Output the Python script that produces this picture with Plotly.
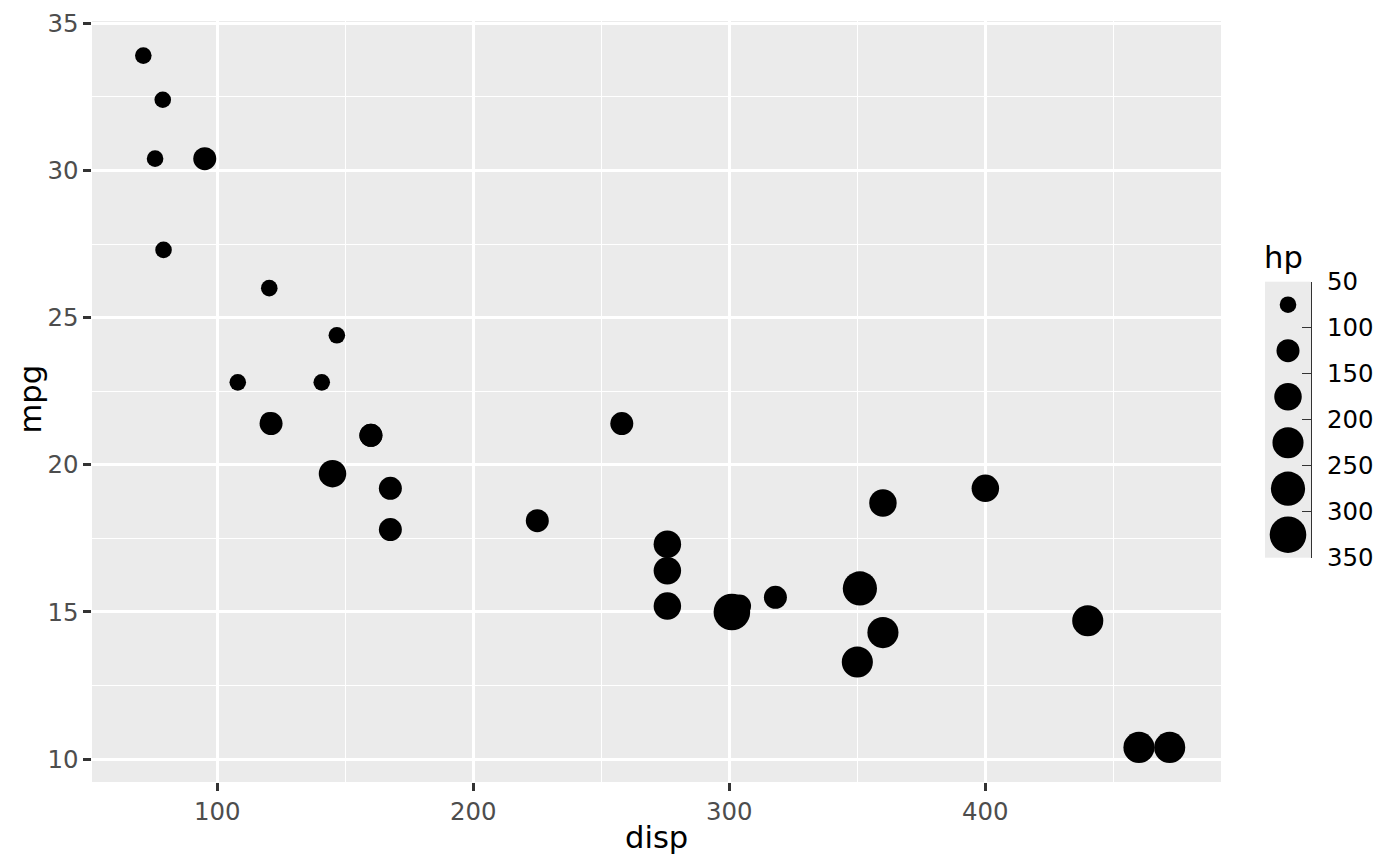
import plotly.graph_objects as go

# mtcars data
disp = [160, 160, 108, 258, 360, 225, 360, 146.7, 140.8, 167.6, 167.6, 275.8, 275.8, 275.8,
        472, 460, 440, 78.7, 75.7, 71.1, 120.1, 318, 304, 350, 400, 79, 120.3, 95.1, 351, 145, 301, 121]
mpg = [21, 21, 22.8, 21.4, 18.7, 18.1, 14.3, 24.4, 22.8, 19.2, 17.8, 16.4, 17.3, 15.2,
       10.4, 10.4, 14.7, 32.4, 30.4, 33.9, 21.5, 15.5, 15.2, 13.3, 19.2, 27.3, 26, 30.4, 15.8, 19.7, 15, 21.4]
hp = [110, 110, 93, 110, 175, 105, 245, 62, 95, 123, 123, 180, 180, 180,
      205, 215, 230, 66, 52, 65, 97, 150, 150, 245, 175, 66, 91, 113, 264, 175, 335, 109]

# binned size scale
size_breaks = [50, 100, 150, 200, 250, 300, 350]
legend_labels = ["50", "100", "150", "200", "250", "300", "350"]
bin_diam = [16.6, 23.0, 27.5, 31.1, 34.2, 36.6]

x_ticks = [100, 200, 300, 400]
y_ticks = [10, 15, 20, 25, 30, 35]


def bin_index(v):
    for i in range(len(size_breaks) - 1):
        if v <= size_breaks[i + 1]:
            return i
    return len(size_breaks) - 2


point_sizes = [bin_diam[bin_index(v)] for v in hp]

# page body has an 8px margin; figure is sized to fit the window
OFF = 8
W, H = 1400 - 2 * OFF, 866 - 2 * OFF
PANEL_L, PANEL_R, PANEL_T, PANEL_B = 92, 1221, 21, 782  # screen px
ML = PANEL_L - OFF
MT = PANEL_T - OFF
MB = H - (PANEL_B - OFF)
MR = 0
PW = W - ML - MR
PH = H - MT - MB


def px_x(s):
    return (s - PANEL_L) / PW


def px_y(s):
    return (PANEL_B - s) / PH


FONT = "DejaVu Sans"
GRID = "#FFFFFF"
BG = "#EBEBEB"

fig = go.Figure()
fig.add_trace(go.Scatter(
    x=disp, y=mpg, mode="markers",
    marker=dict(size=point_sizes, color="black", opacity=1, line=dict(width=0)),
    showlegend=False, hoverinfo="x+y+text", text=[f"hp={v}" for v in hp],
))

# legend keys (bin midpoints)
leg_mid = [(size_breaks[i] + size_breaks[i + 1]) / 2 for i in range(len(size_breaks) - 1)]
fig.add_trace(go.Scatter(
    x=[0.5] * len(leg_mid), y=leg_mid, mode="markers",
    marker=dict(size=bin_diam, color="black", opacity=1, line=dict(width=0)),
    xaxis="x2", yaxis="y2", showlegend=False, hoverinfo="skip",
))

tickfont = dict(family=FONT, size=24.4, color="#4D4D4D")

fig.update_layout(
    width=W, height=H,
    margin=dict(l=ML, r=MR, t=MT, b=MB, autoexpand=False),
    paper_bgcolor="white", plot_bgcolor=BG,
    xaxis=dict(
        domain=[0, px_x(PANEL_R)], range=[51.06, 492.05], automargin=False,
        tickvals=x_ticks, ticktext=[str(v) for v in x_ticks],
        ticks="outside", ticklen=7.6, tickwidth=2.9, tickcolor="#333333",
        tickfont=tickfont, showgrid=True, gridcolor=GRID, gridwidth=2.9,
        minor=dict(tickvals=[150, 250, 350, 450], showgrid=True, gridcolor=GRID, gridwidth=1.45, ticks=""),
        zeroline=False, showline=False, anchor="y", ticklabeloverflow="allow",
    ),
    yaxis=dict(
        domain=[0, 1], range=[9.225, 35.075], automargin=False,
        tickvals=y_ticks, ticktext=[str(v) for v in y_ticks],
        ticks="outside", ticklen=7.6, tickwidth=2.9, tickcolor="#333333",
        tickfont=tickfont, showgrid=True, gridcolor=GRID, gridwidth=2.9,
        minor=dict(tickvals=[12.5, 17.5, 22.5, 27.5, 32.5], showgrid=True, gridcolor=GRID, gridwidth=1.45, ticks=""),
        zeroline=False, showline=False, anchor="x", ticklabeloverflow="allow",
    ),
    xaxis2=dict(
        domain=[px_x(1265), px_x(1311)], range=[0, 1], anchor="y2", automargin=False,
        showgrid=False, zeroline=False, showticklabels=False, ticks="", showline=False,
    ),
    yaxis2=dict(
        domain=[px_y(557.7), px_y(281.7)], range=[350, 50], anchor="x2", side="right",
        automargin=False, ticklabeloverflow="allow",
        tickvals=size_breaks, ticktext=legend_labels,
        ticks="inside", ticklen=9, tickwidth=1.4, tickcolor="#333333",
        showline=True, linecolor="#333333", linewidth=1.4,
        showgrid=False, zeroline=False,
        tickfont=dict(family=FONT, size=24.4, color="black"),
        ticklabelstandoff=10,
    ),
    annotations=[
        dict(text="disp", xref="paper", yref="paper", x=px_x(656.5), y=px_y(837),
             xanchor="center", yanchor="middle", showarrow=False,
             font=dict(family=FONT, size=30.6, color="black")),
        dict(text="mpg", xref="paper", yref="paper", x=px_x(30), y=px_y(399.5),
             xanchor="center", yanchor="middle", showarrow=False, textangle=-90,
             font=dict(family=FONT, size=30.6, color="black")),
        dict(text="hp", xref="paper", yref="paper", x=px_x(1262), y=px_y(257),
             xanchor="left", yanchor="middle", showarrow=False,
             font=dict(family=FONT, size=30.6, color="black")),
    ],
)

fig.write_html("out.html")
